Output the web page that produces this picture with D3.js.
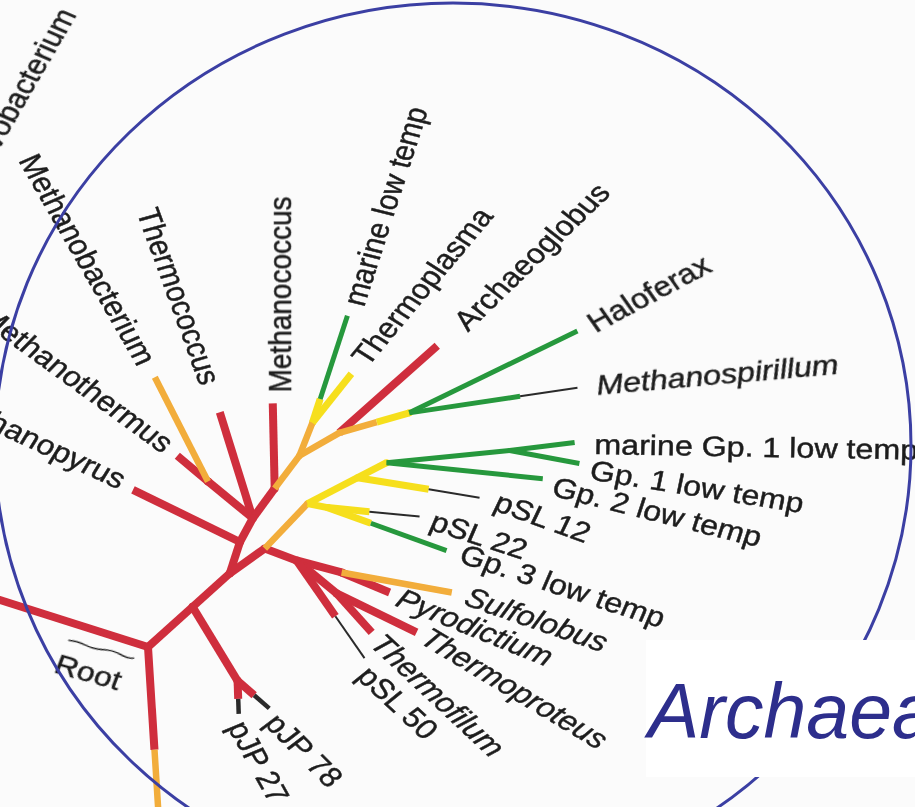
<!DOCTYPE html>
<html>
<head>
<meta charset="utf-8">
<script src="https://cdn.jsdelivr.net/npm/d3@7"></script>
<style>
  html, body { margin: 0; padding: 0; background: #fbfbfb; overflow: hidden; }
  svg { display: block; }
</style>
</head>
<body>
<svg id="chart" width="915" height="807"></svg>
<script>
// Unrooted archaeal rRNA tree.
// Each branch: parent, child, direction (degrees, screen coordinates), length,
// colour class, optional second colour class and the length where it begins.
const branches = [
  ["root", "outgroup", 197.6, 1.80, "red"],
  ["root", "lower", 86.4, 1.80, "red", "orange", 1.03],
  ["root", "n1", -42, 0.60, "red"],
  ["n1", "a", -42, 0.50, "red"],
  ["n1", "pjp", 58.7, 0.866, "red"],
  ["pjp", "pJP 27", 88, 0.33, "red", "inkBold", 0.18],
  ["pjp", "pJP 78", 41, 0.42, "red", "inkBold", 0.22],
  ["a", "b", -72, 0.33, "red"],
  ["b", "Methanopyrus", -154, 1.19, "red"],
  ["b", "c", -61.6, 0.27, "red"],
  ["c", "d", -140.6, 0.58, "red"],
  ["d", "Methanothermus", -140, 0.40, "red"],
  ["d", "Methanobacterium", -117, 1.17, "orange"],
  ["c", "Thermococcus", -107.3, 1.11, "red"],
  ["c", "e", -53.7, 0.37, "red"],
  ["e", "Methanococcus", -91.3, 0.85, "red"],
  ["e", "h", -52.9, 0.41, "orange"],
  ["h", "i", -68.5, 0.355, "orange"],
  ["i", "marine low temp", -71.9, 1.126, "yellow", "green", 0.25],
  ["i", "Thermoplasma", -51.5, 0.626, "yellow"],
  ["h", "j", -29.9, 0.46, "orange"],
  ["j", "Archaeoglobus", -41.6, 1.31, "red"],
  ["j", "k", -15.9, 0.728, "orange", "yellow", 0.39],
  ["k", "Haloferax", -26, 1.87, "green"],
  ["k", "Methanospirillum", -8.5, 1.70, "green", "ink", 1.12],
  ["a", "f", -35.5, 0.43, "red"],
  ["f", "g", -46.3, 0.62, "orange"],
  ["g", "q", -27.4, 0.563, "yellow"],
  ["q", "l", -27.4, 0.327, "yellow"],
  ["q", "pSL 12", 9.3, 1.236, "yellow", "ink", 0.72],
  ["l", "l2", -5.6, 1.236, "green"],
  ["l2", "marine Gp. 1 low temp", -7, 0.655, "green"],
  ["l2", "Gp. 1 low temp", 10.5, 0.71, "green"],
  ["l", "Gp. 2 low temp", 5.9, 1.57, "green"],
  ["g", "n", 11.3, 0.204, "yellow"],
  ["n", "pSL 22", 5.6, 0.924, "yellow", "ink", 0.42],
  ["n", "Gp. 3 low temp", 19.9, 1.265, "yellow", "green", 0.46],
  ["f", "s", 20.6, 0.34, "red"],
  ["s", "u", 15, 0.466, "red"],
  ["u", "Pyrodictium", 22.6, 0.52, "red"],
  ["u", "Sulfolobus", 10.3, 1.12, "orange"],
  ["s", "v", 39.5, 0.519, "red"],
  ["v", "Thermofilum", 48, 0.524, "red"],
  ["v", "Thermoproteus", 26, 0.89, "red"],
  ["s", "pSL 50", 55.2, 1.19, "red", "ink", 0.68]
];

// Tip labels: tip, label angle, gap after the tip, sideways shift, italic
const tipLabels = [
  ["Methanobacterium", 60, 16, 0, false],
  ["Methanothermus", 36, 12, -2, false],
  ["Methanopyrus", 25, 12, -4, false],
  ["Thermococcus", 70, 30, 0, false],
  ["Methanococcus", -90, 11, 7, false],
  ["marine low temp", -72, 12, 2, false],
  ["Thermoplasma", -50, 14, -2, false],
  ["Archaeoglobus", -44, 30, 0, false],
  ["Haloferax", -28, 14, 0, false],
  ["Methanospirillum", -5, 19, 0, true],
  ["marine Gp. 1 low temp", 1, 20, 4, false],
  ["Gp. 1 low temp", 9, 12, 4, false],
  ["Gp. 2 low temp", 14, 12, 6, false],
  ["pSL 12", 20, 17, 0, false],
  ["pSL 22", 18, 13, 2, false],
  ["Gp. 3 low temp", 18, 15, -3, false],
  ["Sulfolobus", 19, 15, 0, true],
  ["Pyrodictium", 22, 10, 0, true],
  ["Thermoproteus", 31, 8, -2, true],
  ["Thermofilum", 43, 8, 0, true],
  ["pSL 50", 43, 8, 8, false],
  ["pJP 78", 45, 8, 5.5, false],
  ["pJP 27", 61, 8, 2, false]
];

const outgroupText = "Flavobacterium";
const rootText = "Root";
const titleText = "Archaea";

const palette = {
  red: "#cf2f3c", orange: "#f2ad3a", yellow: "#f6df1f",
  green: "#27983c", ink: "#2b2b2b", inkBold: "#2b2b2b"
};
const widths = { red: 8, orange: 6.5, yellow: 7, green: 5, ink: 2, inkBold: 4.5 };
const layer = { red: 0, orange: 1, yellow: 2, green: 3, ink: 4, inkBold: 4 };

const W = 915, H = 807;
const stretchX = 1.15;   // lettering is drawn wider than tall
const svg = d3.select("#chart");
const defs = svg.append("defs");
defs.append("filter").attr("id", "soft")
  .attr("x", "-5%").attr("y", "-5%").attr("width", "110%").attr("height", "110%")
  .append("feGaussianBlur").attr("stdDeviation", 0.65);

svg.append("rect").attr("width", W).attr("height", H).attr("fill", "#fbfbfb");

// branch length units -> pixels
const len = d3.scaleLinear().domain([0, 1]).range([0, 100]);
const rad = d3.scaleLinear().domain([0, 180]).range([0, Math.PI]);
const origin = [148, 647];

// place nodes by walking the branch list
const pos = { root: origin };
const inAngle = {};
const inColour = { root: "red" };
branches.forEach(([p, c, ang, L, c1, c2]) => {
  const a = rad(ang), o = pos[p];
  pos[c] = [o[0] + len(L) * Math.cos(a), o[1] + len(L) * Math.sin(a)];
  inAngle[c] = ang;
  inColour[c] = c2 || c1;
});

const at = (p, ang, d) => [pos[p][0] + len(d) * Math.cos(rad(ang)), pos[p][1] + len(d) * Math.sin(rad(ang))];

const marks = [];
branches.forEach(([p, c, ang, L, c1, c2, split]) => {
  const segs = c2 ? [[0, split, c1], [split, L, c2]] : [[0, L, c1]];
  segs.forEach(([s0, s1, col]) => {
    marks.push({ type: "seg", a: at(p, ang, s0), b: at(p, ang, s1), col });
  });
});
const parents = new Set(branches.map(b => b[0]));
parents.forEach(n => {
  marks.push({ type: "joint", a: pos[n], col: inColour[n] });
});
marks.sort((m1, m2) => layer[m1.col] - layer[m2.col] || (m1.type === "joint") - (m2.type === "joint"));

const tree = svg.append("g").attr("filter", "url(#soft)");
marks.forEach(m => {
  if (m.type === "seg") {
    tree.append("line")
      .attr("x1", m.a[0]).attr("y1", m.a[1]).attr("x2", m.b[0]).attr("y2", m.b[1])
      .attr("stroke", palette[m.col]).attr("stroke-width", widths[m.col])
      .attr("stroke-linecap", "butt");
  } else {
    tree.append("circle").attr("cx", m.a[0]).attr("cy", m.a[1])
      .attr("r", widths[m.col] / 2).attr("fill", palette[m.col]);
  }
});

// labels: placed in screen space, then widened along x
const font = "'Liberation Sans', Arial, Helvetica, sans-serif";
const labels = svg.append("g").attr("filter", "url(#soft)")
  .attr("font-family", font).attr("font-size", 28).attr("fill", "#1f1f1f")
  .attr("stroke", "#1f1f1f").attr("stroke-width", 0.45);

// rotation before widening that ends up at the requested screen angle
const preRot = rot => Math.atan2(Math.sin(rad(rot)), Math.cos(rad(rot)) / stretchX) * 180 / Math.PI;
const place = (x, y, rot) => `translate(${x},${y}) scale(${stretchX},1) rotate(${preRot(rot)})`;

tipLabels.forEach(([tip, rot, gap, off, italic]) => {
  const a = rad(inAngle[tip]), r = rad(rot);
  const p = pos[tip];
  const x = p[0] + gap * Math.cos(a) - off * Math.sin(r);
  const y = p[1] + gap * Math.sin(a) + off * Math.cos(r);
  const along = Math.cos(a) * Math.cos(r) + Math.sin(a) * Math.sin(r);
  labels.append("text")
    .attr("transform", place(x, y, rot))
    .attr("dy", "0.35em")
    .attr("text-anchor", along >= 0 ? "start" : "end")
    .attr("font-style", italic ? "italic" : "normal")
    .text(tip);
});

// outgroup name running off the top-left corner
labels.append("text")
  .attr("transform", place(67, 10, -60))
  .attr("dy", "0.35em").attr("text-anchor", "end")
  .text(outgroupText);

// root marker
const rootG = labels.append("g").attr("transform", place(56, 663, 16));
rootG.append("text").attr("dy", "0.35em").text(rootText);
rootG.append("path")
  .attr("d", "M3,-25 q8,-1.5 16,0 t16,-0.6 t16,0 t12,-0.4")
  .attr("fill", "none").attr("stroke-width", 1.4);

// enclosing ellipse
svg.append("ellipse")
  .attr("cx", 453).attr("cy", 446).attr("rx", 458).attr("ry", 443)
  .attr("fill", "none").attr("stroke", "#3b3fa3").attr("stroke-width", 3);

// title panel
svg.append("rect").attr("x", 646).attr("y", 640).attr("width", 269).attr("height", 137).attr("fill", "#ffffff");
svg.append("text")
  .attr("x", 648).attr("y", 738)
  .attr("font-family", font).attr("font-style", "italic")
  .attr("font-size", 77).attr("fill", "#2d2e8c")
  .text(titleText);
</script>
</body>
</html>
